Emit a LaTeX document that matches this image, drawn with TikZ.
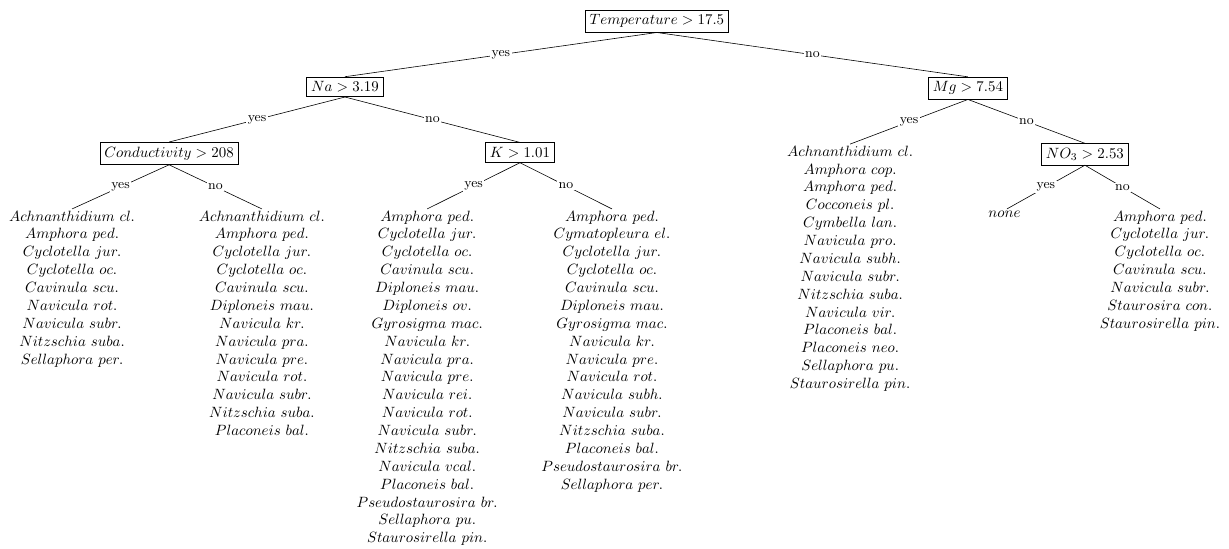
\documentclass[tikz,border=0pt]{standalone}

\begin{document}
\begin{tikzpicture}[
    test/.style={rectangle, draw, inner sep=3pt},
    leaf/.style={align=center, inner sep=1pt, anchor=north},
    answer/.style={font=\small, fill=white, inner sep=1pt, midway}
]

\useasboundingbox (0,0) rectangle (29,-12.954);

    \node (temperature) [test] at (15.50, -0.50) {$Temperature > 17.5$};

    \node (na) [test] at (8.14, -2.05) {$Na > 3.19$};
    \node (mg) [test] at (22.84, -2.08) {$Mg > 7.54$};

    \node (conductivity) [test] at (3.99, -3.62) {$Conductivity > 208$};
    \node (k) [test] at (12.27, -3.60) {$K > 1.01$};
    \node (no3) [test] at (25.60, -3.64) {$NO_3 > 2.53$};



    \node (conductivity_yes) [leaf] at (1.70, -4.93)
    {
        $Achnanthidium\ cl.$\\
        $Amphora\ ped.$\\
        $Cyclotella\ jur.$\\
        $Cyclotella\ oc.$\\
        $Cavinula\ scu.$\\
        $Navicula\ rot.$\\
        $Navicula\ subr.$\\
        $Nitzschia\ suba.$\\
        $Sellaphora\ per.$
    };

    \node (conductivity_no) [leaf] at (6.18, -4.93)
    {
        $Achnanthidium\ cl.$\\
        $Amphora\ ped.$\\
        $Cyclotella\ jur.$\\
        $Cyclotella\ oc.$\\
        $Cavinula\ scu.$\\
        $Diploneis\ mau.$\\
        $Navicula\ kr.$\\
        $Navicula\ pra.$\\
        $Navicula\ pre.$\\
        $Navicula\ rot.$\\
        $Navicula\ subr.$\\
        $Nitzschia\ suba.$\\
        $Placoneis\ bal.$
    };

    \node (k_yes) [leaf] at (10.08, -4.93)
    {
        $Amphora\ ped.$\\
        $Cyclotella\ jur.$\\
        $Cyclotella\ oc.$\\
        $Cavinula\ scu.$\\
        $Diploneis\ mau.$\\
        $Diploneis\ ov.$\\
        $Gyrosigma\ mac.$\\
        $Navicula\ kr.$\\
        $Navicula\ pra.$\\
        $Navicula\ pre.$\\
        $Navicula\ rei.$\\
        $Navicula\ rot.$\\
        $Navicula\ subr.$\\
        $Nitzschia\ suba.$\\
        $Navicula\ vcal.$\\
        $Placoneis\ bal.$\\
        $Pseudostaurosira\ br.$\\
        $Sellaphora\ pu.$\\
        $Staurosirella\ pin.$
    };

    \node (k_no) [leaf] at (14.44, -4.93)
    {
        $Amphora\ ped.$\\
        $Cymatopleura\ el.$\\
        $Cyclotella\ jur.$\\
        $Cyclotella\ oc.$\\
        $Cavinula\ scu.$\\
        $Diploneis\ mau.$\\
        $Gyrosigma\ mac.$\\
        $Navicula\ kr.$\\
        $Navicula\ pre.$\\
        $Navicula\ rot.$\\
        $Navicula\ subh.$\\
        $Navicula\ subr.$\\
        $Nitzschia\ suba.$\\
        $Placoneis\ bal.$\\
        $Pseudostaurosira\ br.$\\
        $Sellaphora\ per.$
    };

    \node (mg_yes) [leaf] at (20.06, -3.40)
    {
        $Achnanthidium\ cl.$\\
        $Amphora\ cop.$\\
        $Amphora\ ped.$\\
        $Cocconeis\ pl.$\\
        $Cymbella\ lan.$\\
        $Navicula\ pro.$\\
        $Navicula\ subh.$\\
        $Navicula\ subr.$\\
        $Nitzschia\ suba.$\\
        $Navicula\ vir.$\\
        $Placoneis\ bal.$\\
        $Placoneis\ neo.$\\
        $Sellaphora\ pu.$\\
        $Staurosirella\ pin.$
    };

    \node (no3_yes) [leaf] at (23.76, -4.93)
    {
        $none$
    };

    \node (no3_no) [leaf] at (27.37, -4.93)
    {
        $Amphora\ ped.$\\
        $Cyclotella\ jur.$\\
        $Cyclotella\ oc.$\\
        $Cavinula\ scu.$\\
        $Navicula\ subr.$\\
        $Staurosira\ con.$\\
        $Staurosirella\ pin.$
    };



    \draw (temperature.south) to node[answer] {yes} (na.north);
    \draw (temperature.south) to node[answer] {no} (mg.north);

    \draw (na.south) to node[answer] {yes} (conductivity.north);
    \draw (na.south) to node[answer] {no} (k.north);

    \draw (mg.south) to node[answer] {yes} (mg_yes.north);
    \draw (mg.south) to node[answer] {no} (no3.north);

    \draw (conductivity.south) to node[answer] {yes} (conductivity_yes.north);
    \draw (conductivity.south) to node[answer] {no} (conductivity_no.north);

    \draw (k.south) to node[answer] {yes} (k_yes.north);
    \draw (k.south) to node[answer] {no} (k_no.north);

    \draw (no3.south) to node[answer] {yes} (no3_yes.north);
    \draw (no3.south) to node[answer] {no} (no3_no.north);

\end{tikzpicture}
\end{document}
